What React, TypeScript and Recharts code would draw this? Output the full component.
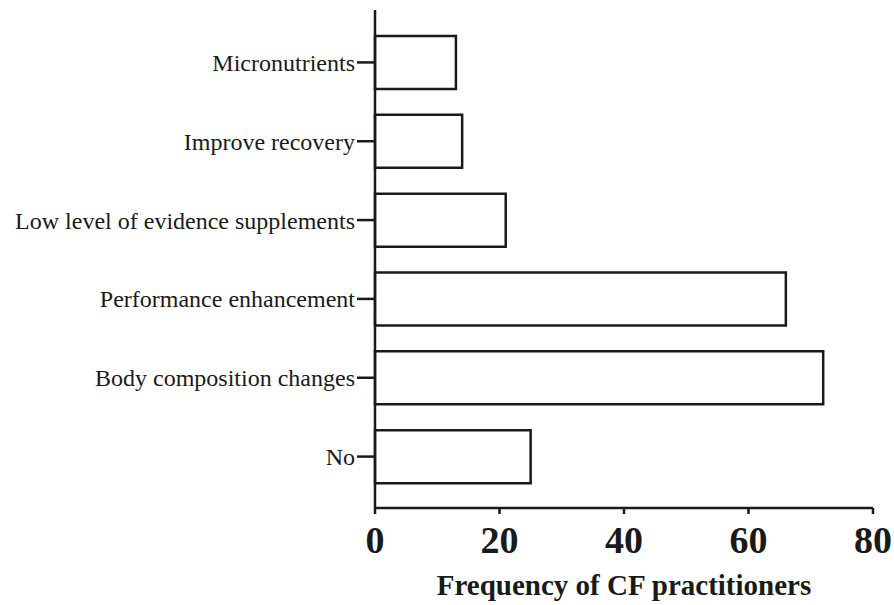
import React from 'react';
import { BarChart, Bar, XAxis, YAxis } from 'recharts';

const categories = [
  'Micronutrients',
  'Improve recovery',
  'Low level of evidence supplements',
  'Performance enhancement',
  'Body composition changes',
  'No',
];
const frequencies = [13, 14, 21, 66, 72, 25];
const xTicks = [0, 20, 40, 60, 80];

const data = categories.map((name, i) => ({ name, value: frequencies[i] }));

const ink = '#1a1a1a';
const serif = '"Liberation Serif", "Times New Roman", serif';

const App: React.FC = () => {
  return (
    <div style={{ position: 'absolute', left: 0, top: 0, background: '#fff' }}>
      <BarChart
        width={894}
        height={605}
        data={data}
        layout="vertical"
        margin={{ top: 10, right: 21, bottom: 0, left: 0 }}
      >
        <XAxis
          type="number"
          domain={[0, 80]}
          ticks={xTicks}
          interval={0}
          height={97}
          tickSize={6}
          tickMargin={12}
          axisLine={{ stroke: ink, strokeWidth: 2.5 }}
          tickLine={{ stroke: ink, strokeWidth: 2.5 }}
          tick={{ fill: ink, fontSize: 38, fontWeight: 'bold', fontFamily: serif }}
          label={{
            value: 'Frequency of CF practitioners',
            position: 'insideBottom',
            offset: 10,
            fill: ink,
            fontSize: 29,
            fontWeight: 'bold',
            fontFamily: serif,
          }}
        />
        <YAxis
          type="category"
          dataKey="name"
          width={375}
          interval={0}
          padding={{ top: 13, bottom: 12 }}
          tickSize={18}
          tickMargin={2}
          axisLine={{ stroke: ink, strokeWidth: 2.5 }}
          tickLine={{ stroke: ink, strokeWidth: 2.5 }}
          tick={{ fill: ink, fontSize: 24, fontFamily: serif }}
        />
        <Bar
          dataKey="value"
          barSize={53}
          fill="#ffffff"
          stroke={ink}
          strokeWidth={2.5}
          isAnimationActive={false}
        />
      </BarChart>
    </div>
  );
};

export default App;
